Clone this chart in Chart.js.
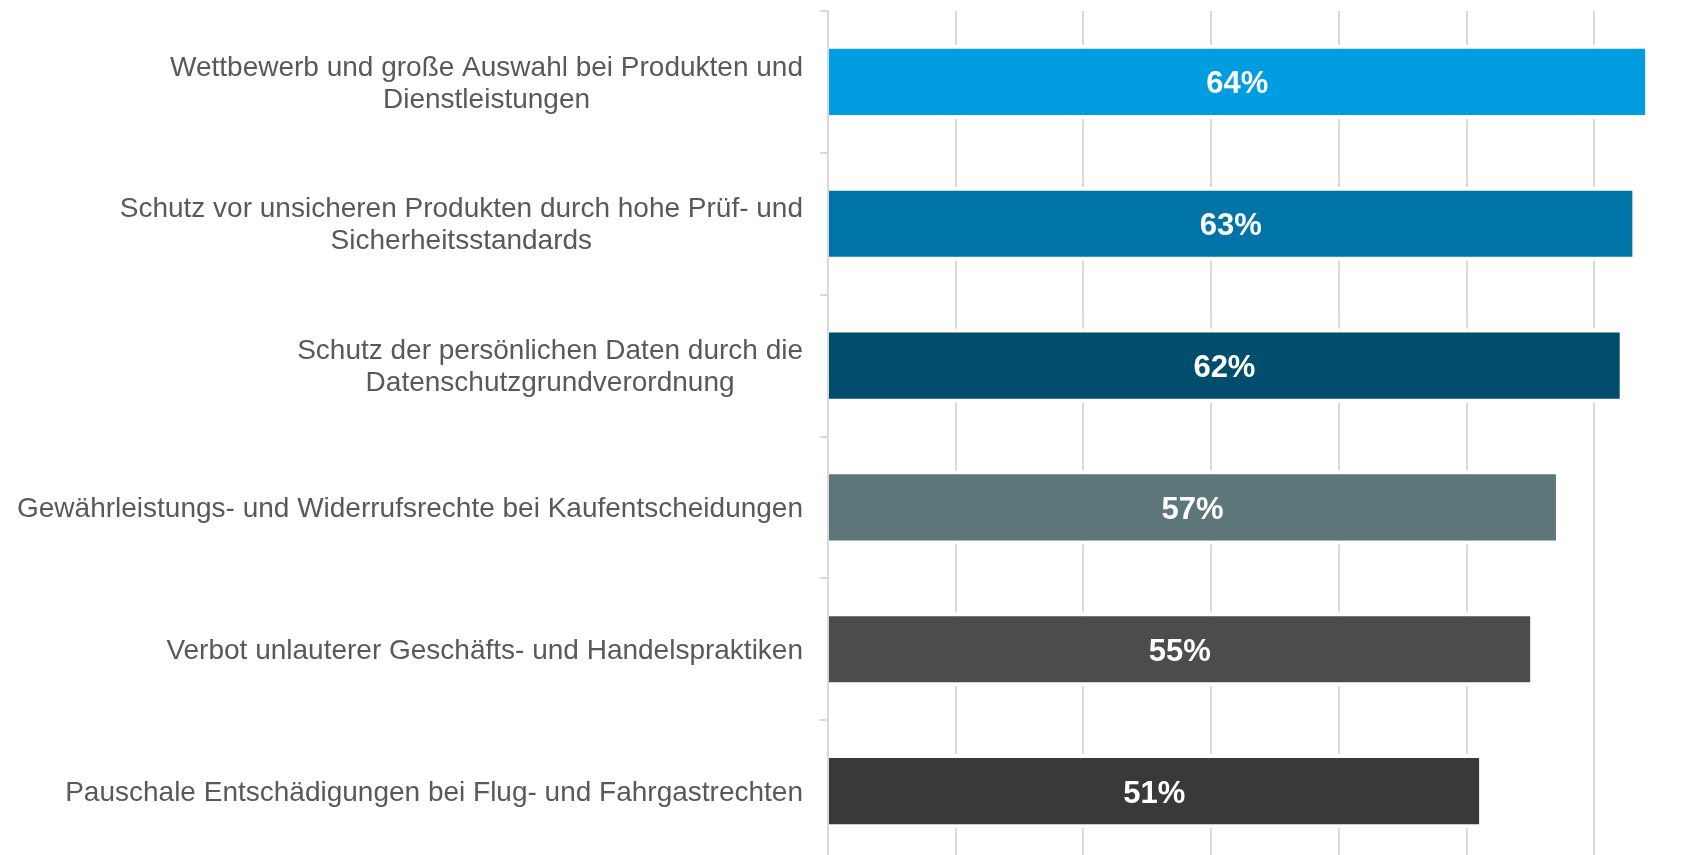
<!DOCTYPE html>
<html>
<head>
<meta charset="utf-8">
<script src="https://cdn.jsdelivr.net/npm/chart.js@4.4.0/dist/chart.umd.min.js"></script>
<style>
  html, body { margin: 0; padding: 0; background: #fff; overflow: hidden; }
  #wrap { position: relative; width: 1722px; height: 862px; }
</style>
</head>
<body>
<div id="wrap"><canvas id="chart"></canvas></div>
<script>
const categories = [
    ['Wettbewerb und große Auswahl bei Produkten und', 'Dienstleistungen'],
    ['Schutz vor unsicheren Produkten durch hohe Prüf- und', 'Sicherheitsstandards'],
    ['Schutz der persönlichen Daten durch die', 'Datenschutzgrundverordnung'],
    'Gewährleistungs- und Widerrufsrechte bei Kaufentscheidungen',
    'Verbot unlauterer Geschäfts- und Handelspraktiken',
    'Pauschale Entschädigungen bei Flug- und Fahrgastrechten'
];
const shares = [64, 63, 62, 57, 55, 51];
const barColors = ['#009ee0', '#0073a7', '#004d6d', '#5d767a', '#4c4c4e', '#39393b'];
const axisMax = 70;
const axisStep = 10;

const labelFont = '28px "Liberation Sans", Arial, sans-serif';
const valueFont = 'bold 31px "Liberation Sans", Arial, sans-serif';

// category labels: each block right-aligned, lines centred inside the block
const categoryLabels = {
    id: 'categoryLabels',
    afterDraw(chart) {
        const ctx = chart.ctx;
        const y = chart.scales.y;
        const right = y.right - 8 - 17;
        const lh = 32;
        ctx.save();
        ctx.font = labelFont;
        ctx.fillStyle = '#595959';
        ctx.textAlign = 'center';
        ctx.textBaseline = 'middle';
        categories.forEach((lab, i) => {
            const lines = Array.isArray(lab) ? lab : [lab];
            const w = Math.max(...lines.map(l => ctx.measureText(l).width));
            const cx = right - w / 2;
            const cy = y.getPixelForTick(i) + 2;
            lines.forEach((l, j) => {
                ctx.fillText(l, cx, cy + (j - (lines.length - 1) / 2) * lh);
            });
        });
        ctx.restore();
    }
};

const valueLabels = {
    id: 'valueLabels',
    afterDatasetsDraw(chart) {
        const ctx = chart.ctx;
        const meta = chart.getDatasetMeta(0);
        ctx.save();
        ctx.font = valueFont;
        ctx.fillStyle = '#ffffff';
        ctx.textAlign = 'center';
        ctx.textBaseline = 'middle';
        meta.data.forEach((bar, i) => {
            ctx.fillText(shares[i] + '%', (bar.base + bar.x) / 2, bar.y + 3);
        });
        ctx.restore();
    }
};

new Chart(document.getElementById('chart').getContext('2d'), {
    type: 'bar',
    data: {
        labels: categories,
        datasets: [{
            data: shares,
            backgroundColor: barColors,
            borderColor: '#ffffff',
            borderWidth: { top: 4, bottom: 4, left: 0, right: 0 },
            borderSkipped: false,
            barPercentage: 1,
            categoryPercentage: 0.523
        }]
    },
    options: {
        indexAxis: 'y',
        responsive: true,
        maintainAspectRatio: false,
        animation: false,
        layout: { padding: { top: 11, left: 0, right: 0, bottom: 0 } },
        plugins: {
            legend: { display: false },
            tooltip: { enabled: false }
        },
        scales: {
            x: {
                min: 0,
                max: axisMax,
                ticks: { display: false, stepSize: axisStep },
                grid: { color: '#dadada', lineWidth: 2, drawTicks: false },
                border: { display: false },
                afterFit: s => { s.height = 0; }
            },
            y: {
                ticks: { display: false },
                grid: { drawOnChartArea: false, color: '#d9d9d9', lineWidth: 2, tickLength: 8 },
                border: { color: '#d9d9d9', width: 2 },
                afterFit: s => { s.width = 828; }
            }
        }
    },
    plugins: [categoryLabels, valueLabels]
});
</script>
</body>
</html>
